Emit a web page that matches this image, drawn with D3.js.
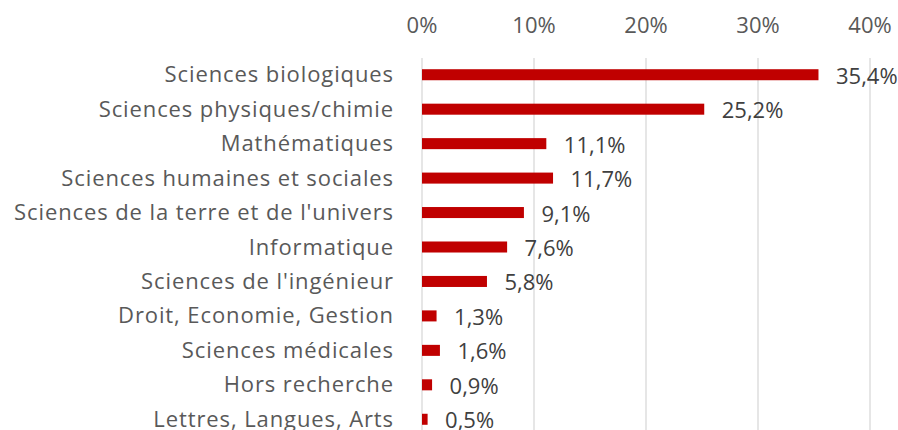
<!DOCTYPE html>
<html>
<head>
<meta charset="utf-8">
<script src="https://cdn.jsdelivr.net/npm/d3@7"></script>
<style>
  body { margin: 0; background: #fff; }
  svg { display: block; font-family: "Open Sans", "Liberation Sans", sans-serif; }
</style>
</head>
<body>
<script>
var width = 898, height = 430;

// data
var categories = [
  "Sciences biologiques",
  "Sciences physiques/chimie",
  "Mathématiques",
  "Sciences humaines et sociales",
  "Sciences de la terre et de l'univers",
  "Informatique",
  "Sciences de l'ingénieur",
  "Droit, Economie, Gestion",
  "Sciences médicales",
  "Hors recherche",
  "Lettres, Langues, Arts"
];
var values = [35.4, 25.2, 11.1, 11.7, 9.1, 7.6, 5.8, 1.3, 1.6, 0.9, 0.5];
var tickValues = [0, 10, 20, 30, 40];

var svg = d3.select("body").append("svg")
    .attr("width", width)
    .attr("height", height);

var x = d3.scaleLinear()
    .domain([0, 40])
    .range([422, 870]);

var y = d3.scaleBand()
    .domain(categories)
    .range([57.5, 436.5])
    .paddingInner(0.68)
    .paddingOuter(0.34);

var fmt = v => String(v.toFixed(1)).replace(".", ",") + "%";
var mid = d => y(d) + y.bandwidth() / 2;

// gridlines
svg.append("g")
  .selectAll("line")
  .data(tickValues)
  .join("line")
    .attr("x1", d => x(d))
    .attr("x2", d => x(d))
    .attr("y1", 58)
    .attr("y2", height)
    .attr("stroke", "#d9d9d9")
    .attr("stroke-width", 1.3);

// top axis labels
svg.append("g")
  .selectAll("text")
  .data(tickValues)
  .join("text")
    .attr("x", d => x(d))
    .attr("y", 32.5)
    .attr("text-anchor", "middle")
    .attr("fill", "#595959")
    .style("font-size", "22px")
    .text(d => d + "%");

// bars
svg.append("g")
  .selectAll("rect")
  .data(values)
  .join("rect")
    .attr("x", x(0))
    .attr("y", (d, i) => y(categories[i]))
    .attr("width", d => x(d) - x(0))
    .attr("height", y.bandwidth())
    .attr("fill", "#c00000");

// value labels
svg.append("g")
  .selectAll("text")
  .data(values)
  .join("text")
    .attr("x", d => x(d) + 17.5)
    .attr("y", (d, i) => mid(categories[i]) + 9)
    .attr("fill", "#404040")
    .style("font-size", "22px")
    .text(fmt);

// category labels
svg.append("g")
  .selectAll("text")
  .data(categories)
  .join("text")
    .attr("x", 394)
    .attr("y", d => mid(d) + 7.5)
    .attr("text-anchor", "end")
    .attr("fill", "#595959")
    .style("font-size", "22px")
    .style("letter-spacing", "0.9px")
    .text(d => d);
</script>
</body>
</html>
